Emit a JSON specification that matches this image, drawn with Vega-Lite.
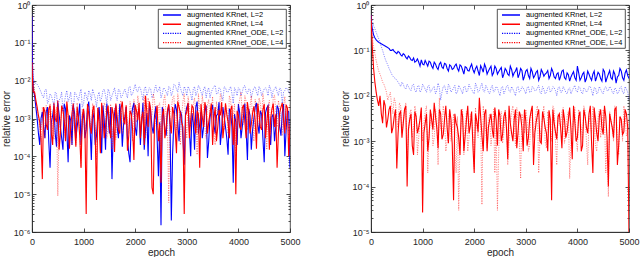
{
"$schema": "https://vega.github.io/schema/vega-lite/v6.json",
"padding": {"left": 0, "top": 0, "right": 0, "bottom": 0},
"spacing": 38,
"datasets": {
"L": [
{"x":0,"a":0.5,"b":0.03,"c":0.6,"d":0.5},
{"x":10,"a":0.02,"b":0.01,"c":0.05,"d":0.03},
{"x":25,"a":6e-3,"b":5e-3,"c":1.2e-2,"d":8e-3},
{"x":50,"a":4e-3,"b":5e-3,"c":9e-3,"d":5e-3},
{"x":100,"a":1e-3,"b":2e-3,"c":8e-3,"d":1.5e-3},
{"x":150,"a":2e-4,"b":8e-4,"c":6e-3,"d":6e-4},
{"x":200,"a":1.5e-3,"b":2.5e-5,"c":4e-3,"d":2e-3},
{"x":250,"a":3e-4,"b":1.5e-3,"c":5.5e-3,"d":3e-4},
{"x":300,"a":2e-3,"b":5e-4,"c":2.5e-3,"d":1.2e-3},
{"x":350,"a":5e-5,"b":2.2e-3,"c":4.5e-3,"d":2.5e-3},
{"x":400,"a":1.2e-3,"b":2e-4,"c":3e-3,"d":5e-4},
{"x":450,"a":4e-4,"b":1e-3,"c":5e-3,"d":1.5e-3},
{"x":500,"a":2.5e-3,"b":3e-3,"c":2e-3,"d":9e-6},
{"x":550,"a":6e-4,"b":4e-4,"c":3.5e-3,"d":8e-4},
{"x":600,"a":1.5e-4,"b":1.7e-3,"c":1.5e-3,"d":2e-3},
{"x":650,"a":1.8e-3,"b":2.5e-4,"c":4e-3,"d":3e-4},
{"x":700,"a":7e-5,"b":1.2e-3,"c":2.8e-3,"d":1.1e-3},
{"x":750,"a":9e-4,"b":6e-4,"c":5e-3,"d":6e-4},
{"x":800,"a":2.2e-3,"b":2.5e-3,"c":1.2e-3,"d":1.8e-3},
{"x":850,"a":3e-4,"b":1.8e-4,"c":4.5e-3,"d":2e-4},
{"x":900,"a":1.1e-3,"b":1e-3,"c":3e-3,"d":9e-4},
{"x":950,"a":2e-4,"b":5e-5,"c":6e-3,"d":5e-5},
{"x":1000,"a":1.6e-3,"b":1.8e-3,"c":2.5e-3,"d":1.4e-3},
{"x":1050,"a":5e-4,"b":3e-6,"c":4e-3,"d":7e-4},
{"x":1100,"a":2.8e-3,"b":1.3e-3,"c":5.5e-3,"d":2.2e-3},
{"x":1150,"a":8e-5,"b":4e-4,"c":3e-3,"d":4e-4},
{"x":1200,"a":1e-3,"b":2.2e-3,"c":4.5e-3,"d":1.2e-3},
{"x":1250,"a":3.5e-4,"b":7e-6,"c":2e-3,"d":8e-5},
{"x":1300,"a":2e-3,"b":8e-4,"c":5e-3,"d":1.6e-3},
{"x":1350,"a":1.2e-4,"b":2.6e-3,"c":3.5e-3,"d":5e-4},
{"x":1400,"a":9e-4,"b":3e-4,"c":6e-3,"d":2.6e-3},
{"x":1450,"a":2.5e-3,"b":1.5e-3,"c":2.5e-3,"d":3e-4},
{"x":1500,"a":4e-4,"b":6e-4,"c":5e-3,"d":1e-3},
{"x":1550,"a":2.5e-5,"b":2e-3,"c":4e-3,"d":1.5e-4},
{"x":1600,"a":1.4e-3,"b":1.3e-4,"c":6.5e-3,"d":1.9e-3},
{"x":1650,"a":6e-4,"b":1.1e-3,"c":3e-3,"d":7e-4},
{"x":1700,"a":2.4e-3,"b":4e-4,"c":5.5e-3,"d":2.4e-3},
{"x":1750,"a":1.8e-4,"b":2.8e-3,"c":4e-3,"d":4e-4},
{"x":1800,"a":1.1e-3,"b":7e-4,"c":6e-3,"d":1.3e-3},
{"x":1850,"a":3e-4,"b":1.4e-4,"c":3.5e-3,"d":8e-4},
{"x":1900,"a":7e-5,"b":1.6e-3,"c":7e-3,"d":2.8e-3},
{"x":1950,"a":1.9e-3,"b":5e-4,"c":4.5e-3,"d":2.5e-4},
{"x":2000,"a":6e-4,"b":2.3e-3,"c":8e-3,"d":1.5e-3},
{"x":2050,"a":1.3e-3,"b":9e-4,"c":5e-3,"d":4e-3},
{"x":2100,"a":2e-4,"b":3e-4,"c":6.5e-3,"d":6e-4},
{"x":2150,"a":2.6e-3,"b":1.5e-3,"c":3e-3,"d":2e-3},
{"x":2200,"a":5e-4,"b":4e-3,"c":7e-3,"d":3e-4},
{"x":2250,"a":1e-4,"b":6e-4,"c":5e-3,"d":3.5e-3},
{"x":2300,"a":1.5e-3,"b":1.7e-3,"c":6e-3,"d":1e-3},
{"x":2350,"a":4e-4,"b":1e-5,"c":4e-3,"d":4.5e-3},
{"x":2400,"a":2.1e-3,"b":1.2e-3,"c":7.5e-3,"d":7e-4},
{"x":2450,"a":3e-5,"b":2.5e-4,"c":5.5e-3,"d":2.2e-3},
{"x":2500,"a":1.5e-6,"b":2e-5,"c":3.5e-3,"d":1.8e-4},
{"x":2550,"a":1.2e-3,"b":1.8e-3,"c":6.5e-3,"d":3e-3},
{"x":2600,"a":3.5e-4,"b":6e-4,"c":5e-3,"d":1e-3},
{"x":2650,"a":2.2e-3,"b":2.4e-3,"c":7e-3,"d":6e-6},
{"x":2700,"a":2e-6,"b":4e-4,"c":4e-3,"d":1.8e-3},
{"x":2750,"a":9e-4,"b":1.3e-3,"c":8e-3,"d":4e-3},
{"x":2800,"a":1.7e-3,"b":1.2e-4,"c":6e-3,"d":5e-4},
{"x":2850,"a":2.5e-4,"b":2e-3,"c":9e-3,"d":2.5e-3},
{"x":2900,"a":1.2e-3,"b":8e-4,"c":5e-3,"d":1.2e-3},
{"x":2950,"a":6e-5,"b":3e-6,"c":7e-3,"d":4.5e-3},
{"x":3000,"a":2e-3,"b":1.5e-3,"c":4e-3,"d":3e-4},
{"x":3050,"a":5e-4,"b":3e-4,"c":6e-3,"d":2e-3},
{"x":3100,"a":1.4e-3,"b":2.2e-3,"c":3e-3,"d":8e-4},
{"x":3150,"a":1.5e-4,"b":7e-4,"c":7e-3,"d":3.5e-3},
{"x":3200,"a":2.8e-3,"b":1.6e-3,"c":5e-3,"d":1.1e-4},
{"x":3250,"a":7e-4,"b":5e-5,"c":6.5e-3,"d":1.7e-3},
{"x":3300,"a":3e-4,"b":1.1e-3,"c":4e-3,"d":4e-3},
{"x":3350,"a":1.6e-3,"b":2.7e-3,"c":7e-3,"d":6e-4},
{"x":3400,"a":9e-5,"b":4e-4,"c":5.5e-3,"d":2.3e-3},
{"x":3450,"a":1.1e-3,"b":1.4e-3,"c":3.5e-3,"d":1e-3},
{"x":3500,"a":2.3e-3,"b":2e-4,"c":6e-3,"d":3.8e-3},
{"x":3550,"a":4e-4,"b":2e-3,"c":7.5e-3,"d":2e-4},
{"x":3600,"a":1.3e-3,"b":6e-4,"c":4.5e-3,"d":1.5e-3},
{"x":3650,"a":2e-4,"b":1.2e-3,"c":6e-3,"d":4.5e-3},
{"x":3700,"a":2e-3,"b":3e-4,"c":3e-3,"d":8e-4},
{"x":3750,"a":6e-4,"b":2.5e-3,"c":6.5e-3,"d":2.6e-3},
{"x":3800,"a":1.1e-4,"b":8e-4,"c":5e-3,"d":4e-4},
{"x":3850,"a":1.5e-3,"b":1.7e-3,"c":7e-3,"d":3.2e-3},
{"x":3900,"a":2e-5,"b":2e-4,"c":2.5e-3,"d":1.2e-3},
{"x":3950,"a":8e-4,"b":1e-5,"c":5.5e-3,"d":1e-4},
{"x":4000,"a":2.4e-3,"b":1.2e-3,"c":6.5e-3,"d":2.1e-3},
{"x":4050,"a":3e-4,"b":5e-4,"c":4e-3,"d":5e-3},
{"x":4100,"a":1.2e-3,"b":2.3e-3,"c":7e-3,"d":7e-4},
{"x":4150,"a":5e-4,"b":3e-4,"c":5e-3,"d":2.8e-3},
{"x":4200,"a":1.8e-3,"b":1.5e-3,"c":6e-3,"d":1.1e-3},
{"x":4250,"a":1.5e-4,"b":7e-4,"c":3.5e-3,"d":4e-3},
{"x":4300,"a":1e-3,"b":2.1e-3,"c":6.5e-3,"d":2.5e-4},
{"x":4350,"a":2.6e-3,"b":1.6e-4,"c":5e-3,"d":1.8e-3},
{"x":4400,"a":4e-4,"b":1.3e-3,"c":7e-3,"d":3.5e-3},
{"x":4450,"a":1.3e-3,"b":5e-4,"c":4e-3,"d":9e-4},
{"x":4500,"a":7e-5,"b":2.4e-3,"c":6e-3,"d":2.4e-3},
{"x":4550,"a":1.9e-3,"b":8e-4,"c":5.5e-3,"d":1.5e-4},
{"x":4600,"a":5e-4,"b":1.5e-4,"c":7.5e-3,"d":3e-3},
{"x":4650,"a":1.1e-3,"b":1.8e-3,"c":3.5e-3,"d":1.2e-3},
{"x":4700,"a":2.5e-4,"b":6e-4,"c":6e-3,"d":4.2e-3},
{"x":4750,"a":2.2e-3,"b":5e-5,"c":5e-3,"d":6e-4},
{"x":4800,"a":6e-4,"b":1.4e-3,"c":6.5e-3,"d":2e-3},
{"x":4850,"a":1.4e-3,"b":2.6e-3,"c":2.5e-3,"d":3.5e-4},
{"x":4900,"a":1e-4,"b":4e-4,"c":5.5e-3,"d":3.8e-3},
{"x":4950,"a":1.6e-3,"b":1.9e-3,"c":6e-3,"d":1.3e-3},
{"x":5000,"a":5e-5,"b":7e-4,"c":4.5e-3,"d":2.5e-3},
{"x":75,"a":2e-3,"b":3e-3,"c":8.5e-3,"d":3e-3},
{"x":125,"a":4e-4,"b":1.2e-3,"c":7e-3,"d":1e-3},
{"x":175,"a":1e-3,"b":3e-4,"c":5e-3,"d":2.5e-4},
{"x":225,"a":6e-4,"b":2e-3,"c":3.5e-3,"d":1e-3},
{"x":275,"a":1.5e-3,"b":7e-4,"c":6e-3,"d":2.2e-3},
{"x":325,"a":2.5e-4,"b":1.8e-3,"c":3e-3,"d":7e-4},
{"x":375,"a":8e-4,"b":4e-4,"c":4e-3,"d":1.3e-3},
{"x":425,"a":2.2e-3,"b":2.6e-3,"c":2.2e-3,"d":2.8e-4},
{"x":475,"a":1.8e-4,"b":8e-4,"c":4.5e-3,"d":2e-3},
{"x":525,"a":1.3e-3,"b":1.5e-4,"c":3e-3,"d":5e-4},
{"x":575,"a":3e-4,"b":2.2e-3,"c":5e-3,"d":1.4e-3},
{"x":625,"a":2.4e-3,"b":9e-4,"c":2.5e-3,"d":3.5e-4},
{"x":675,"a":5e-4,"b":2.8e-3,"c":5.5e-3,"d":2.4e-3},
{"x":725,"a":1.2e-3,"b":1.6e-4,"c":3.5e-3,"d":8e-4},
{"x":775,"a":2e-4,"b":1.4e-3,"c":2e-3,"d":2e-4},
{"x":825,"a":1.4e-3,"b":6e-4,"c":5e-3,"d":1.2e-3},
{"x":875,"a":6e-4,"b":2e-3,"c":3.5e-3,"d":2.6e-3},
{"x":925,"a":2.5e-3,"b":3.5e-4,"c":4.5e-3,"d":6e-4},
{"x":975,"a":9e-4,"b":1.2e-3,"c":2e-3,"d":1.8e-3},
{"x":1025,"a":3e-4,"b":7e-4,"c":5e-3,"d":3e-4},
{"x":1075,"a":1.9e-3,"b":2.4e-3,"c":3e-3,"d":1.6e-3},
{"x":1125,"a":6e-4,"b":6e-4,"c":4.5e-3,"d":9e-4},
{"x":1175,"a":1.6e-3,"b":1.6e-3,"c":6e-3,"d":2.5e-3},
{"x":1225,"a":2e-4,"b":4e-4,"c":3.5e-3,"d":6e-4},
{"x":1275,"a":1.2e-3,"b":1.9e-3,"c":4e-3,"d":2e-3},
{"x":1325,"a":6e-4,"b":1.2e-4,"c":2.8e-3,"d":3.5e-4},
{"x":1375,"a":2.2e-3,"b":1.1e-3,"c":5.5e-3,"d":1.2e-3},
{"x":1425,"a":1.5e-4,"b":6e-4,"c":4e-3,"d":2e-3},
{"x":1475,"a":1.1e-3,"b":2.2e-3,"c":6e-3,"d":6e-4},
{"x":1525,"a":2e-3,"b":3e-4,"c":3e-3,"d":2.4e-3},
{"x":1575,"a":5e-4,"b":1.3e-3,"c":5e-3,"d":7e-4},
{"x":1625,"a":2.2e-3,"b":2.5e-3,"c":4e-3,"d":2.8e-4},
{"x":1675,"a":3e-4,"b":5e-4,"c":6e-3,"d":1.5e-3},
{"x":1725,"a":1.3e-3,"b":1.8e-3,"c":3.5e-3,"d":3e-3},
{"x":1775,"a":7e-4,"b":9e-4,"c":5e-3,"d":9e-4},
{"x":1825,"a":2e-3,"b":2.2e-3,"c":4.5e-3,"d":2.2e-3},
{"x":1875,"a":1.2e-4,"b":3.5e-4,"c":6.5e-3,"d":4e-4},
{"x":1925,"a":1e-3,"b":1.3e-3,"c":4e-3,"d":1.6e-3},
{"x":1975,"a":2.6e-3,"b":8e-5,"c":6e-3,"d":3.2e-3},
{"x":2025,"a":3.5e-4,"b":1.6e-3,"c":5.5e-3,"d":8e-4},
{"x":2075,"a":1.8e-3,"b":2.6e-3,"c":7e-3,"d":2.4e-3},
{"x":2125,"a":8e-4,"b":1e-3,"c":4.5e-3,"d":1.2e-3},
{"x":2175,"a":1.5e-4,"b":2e-4,"c":6e-3,"d":4e-3},
{"x":2225,"a":1.4e-3,"b":1.5e-3,"c":4e-3,"d":6e-4},
{"x":2275,"a":2.4e-3,"b":2.8e-3,"c":6.5e-3,"d":2.2e-3},
{"x":2325,"a":6e-4,"b":1.5e-5,"c":3.5e-3,"d":1.2e-3},
{"x":2375,"a":1.2e-3,"b":9e-4,"c":6e-3,"d":3e-3},
{"x":2425,"a":3e-4,"b":2.2e-3,"c":5e-3,"d":5e-4},
{"x":2475,"a":8e-4,"b":7e-4,"c":7e-3,"d":2.6e-3},
{"x":2525,"a":2e-3,"b":1.2e-3,"c":4.5e-3,"d":1.1e-3},
{"x":2575,"a":5e-4,"b":3e-4,"c":6e-3,"d":4.2e-3},
{"x":2625,"a":1.5e-3,"b":1.6e-3,"c":4e-3,"d":7e-4},
{"x":2675,"a":7e-4,"b":8e-4,"c":6.5e-3,"d":1.4e-3},
{"x":2725,"a":1.2e-4,"b":2e-3,"c":5e-3,"d":3.5e-3},
{"x":2775,"a":2.4e-3,"b":5e-4,"c":7.5e-3,"d":8e-4},
{"x":2825,"a":8e-4,"b":2.8e-3,"c":5e-3,"d":4.5e-3},
{"x":2875,"a":1.6e-3,"b":1.4e-3,"c":6.5e-3,"d":2e-4},
{"x":2925,"a":3e-4,"b":6e-4,"c":4e-3,"d":2.8e-3},
{"x":2975,"a":1.3e-3,"b":1.2e-3,"c":6e-3,"d":1.1e-3},
{"x":3025,"a":2.5e-3,"b":2.6e-3,"c":7e-3,"d":3.8e-3},
{"x":3075,"a":1e-4,"b":9e-4,"c":4.5e-3,"d":6e-4},
{"x":3125,"a":8e-4,"b":1.9e-3,"c":6e-3,"d":2.4e-3},
{"x":3175,"a":2e-3,"b":4e-4,"c":4e-3,"d":1.4e-3},
{"x":3225,"a":4e-4,"b":1.3e-3,"c":7.5e-3,"d":4.5e-3},
{"x":3275,"a":1.5e-3,"b":2.4e-3,"c":5e-3,"d":9e-4},
{"x":3325,"a":6e-4,"b":6e-4,"c":6e-3,"d":2.2e-3},
{"x":3375,"a":2.2e-3,"b":1.8e-3,"c":3.5e-3,"d":3e-4},
{"x":3425,"a":2.5e-4,"b":8e-4,"c":6.5e-3,"d":3.2e-3},
{"x":3475,"a":1.6e-3,"b":2.5e-3,"c":5e-3,"d":1.6e-3},
{"x":3525,"a":7e-4,"b":1e-3,"c":7e-3,"d":4.5e-4},
{"x":3575,"a":1.2e-3,"b":2.5e-4,"c":4.5e-3,"d":2.8e-3},
{"x":3625,"a":2.7e-3,"b":1.7e-3,"c":6.5e-3,"d":1e-3},
{"x":3675,"a":5e-4,"b":2.7e-3,"c":4e-3,"d":3.5e-3},
{"x":3725,"a":1.1e-3,"b":7e-4,"c":7e-3,"d":5e-4},
{"x":3775,"a":3e-4,"b":1.3e-3,"c":5e-3,"d":1.8e-3},
{"x":3825,"a":1.8e-3,"b":3e-4,"c":6e-3,"d":4e-3},
{"x":3875,"a":6e-4,"b":2.2e-3,"c":4.5e-3,"d":7e-4},
{"x":3925,"a":1.3e-3,"b":1e-3,"c":6.5e-3,"d":2.4e-3},
{"x":3975,"a":2e-4,"b":1.6e-3,"c":4e-3,"d":8e-4},
{"x":4025,"a":1.4e-3,"b":6e-4,"c":6e-3,"d":3.2e-3},
{"x":4075,"a":6e-4,"b":1.9e-3,"c":5e-3,"d":1.3e-3},
{"x":4125,"a":2.5e-3,"b":8e-4,"c":7.5e-3,"d":4e-3},
{"x":4175,"a":8e-5,"b":2.7e-3,"c":4.5e-3,"d":5e-4},
{"x":4225,"a":1.2e-3,"b":4e-4,"c":6e-3,"d":2e-3},
{"x":4275,"a":5e-4,"b":1.4e-3,"c":5e-3,"d":1e-3},
{"x":4325,"a":2e-3,"b":9e-4,"c":7e-3,"d":3.2e-3},
{"x":4375,"a":7e-4,"b":2.5e-3,"c":4e-3,"d":6e-4},
{"x":4425,"a":1.6e-3,"b":6e-4,"c":6e-3,"d":2.6e-3},
{"x":4475,"a":3e-4,"b":1.7e-3,"c":5e-3,"d":4.5e-3},
{"x":4525,"a":1.4e-3,"b":3e-4,"c":6.5e-3,"d":8e-4},
{"x":4575,"a":2.2e-3,"b":2.2e-3,"c":4e-3,"d":2.2e-3},
{"x":4625,"a":2e-4,"b":1e-3,"c":6e-3,"d":4e-4},
{"x":4675,"a":1.3e-3,"b":2.5e-3,"c":5.5e-3,"d":3.5e-3},
{"x":4725,"a":6e-4,"b":1.3e-3,"c":7e-3,"d":1.5e-3},
{"x":4775,"a":1.8e-3,"b":4e-4,"c":4e-3,"d":3e-3},
{"x":4825,"a":3.5e-4,"b":2e-3,"c":6e-3,"d":9e-4},
{"x":4875,"a":2.4e-3,"b":9e-4,"c":5e-3,"d":2.2e-3},
{"x":4925,"a":5e-4,"b":2.3e-3,"c":6.5e-3,"d":5e-4},
{"x":4975,"a":1.5e-3,"b":1e-4,"c":5e-3,"d":1.6e-3}
],
"R": [
{"x":0,"a":0.6,"b":0.6,"c":0.6,"d":0.5},
{"x":10,"a":0.4,"b":0.3,"c":0.5,"d":0.35},
{"x":25,"a":0.3,"b":0.12,"c":0.45,"d":0.2},
{"x":50,"a":0.22,"b":0.04,"c":0.35,"d":0.12},
{"x":100,"a":0.17,"b":0.012,"c":0.25,"d":0.06},
{"x":150,"a":0.15,"b":6e-3,"c":0.18,"d":0.035},
{"x":200,"a":0.14,"b":4e-3,"c":0.12,"d":0.025},
{"x":250,"a":0.13,"b":8e-3,"c":0.08,"d":0.018},
{"x":300,"a":0.12,"b":2e-3,"c":0.055,"d":0.012},
{"x":350,"a":0.11,"b":5e-3,"c":0.04,"d":0.01},
{"x":400,"a":0.1,"b":1.5e-3,"c":0.03,"d":6e-3},
{"x":450,"a":0.095,"b":3.5e-3,"c":0.025,"d":9e-3},
{"x":500,"a":0.085,"b":2.5e-4,"c":0.022,"d":3e-3},
{"x":550,"a":0.09,"b":4e-3,"c":0.018,"d":7e-3},
{"x":600,"a":0.075,"b":1.2e-3,"c":0.02,"d":1.5e-3},
{"x":650,"a":0.08,"b":5e-3,"c":0.015,"d":5e-3},
{"x":700,"a":0.065,"b":1e-4,"c":0.018,"d":4e-4},
{"x":750,"a":0.07,"b":3e-3,"c":0.014,"d":4e-3},
{"x":800,"a":0.06,"b":8e-4,"c":0.017,"d":1.2e-3},
{"x":850,"a":0.055,"b":4.5e-3,"c":0.013,"d":6e-3},
{"x":900,"a":0.065,"b":1.5e-3,"c":0.016,"d":5e-4},
{"x":950,"a":0.045,"b":3e-3,"c":0.012,"d":3e-3},
{"x":1000,"a":0.05,"b":2.7e-5,"c":0.018,"d":1e-3},
{"x":1050,"a":0.06,"b":2.5e-3,"c":0.014,"d":4.5e-3},
{"x":1100,"a":0.045,"b":6e-4,"c":0.016,"d":2e-4},
{"x":1150,"a":0.055,"b":5e-3,"c":0.012,"d":2.5e-3},
{"x":1200,"a":0.04,"b":1.8e-3,"c":0.015,"d":8e-4},
{"x":1250,"a":0.05,"b":3.5e-3,"c":0.011,"d":5e-3},
{"x":1300,"a":0.038,"b":7e-4,"c":0.019,"d":3e-4},
{"x":1350,"a":0.055,"b":4e-3,"c":0.008,"d":2e-3},
{"x":1400,"a":0.04,"b":1.4e-3,"c":0.016,"d":6e-3},
{"x":1450,"a":0.05,"b":6e-3,"c":0.013,"d":6e-4},
{"x":1500,"a":0.035,"b":9e-4,"c":0.018,"d":3.5e-3},
{"x":1550,"a":0.045,"b":3e-3,"c":0.012,"d":1e-3},
{"x":1600,"a":0.04,"b":5e-5,"c":0.015,"d":4e-3},
{"x":1650,"a":0.05,"b":2.5e-3,"c":0.011,"d":2e-4},
{"x":1700,"a":0.035,"b":1.2e-3,"c":0.017,"d":3e-5},
{"x":1750,"a":0.045,"b":5e-3,"c":0.013,"d":2.5e-3},
{"x":1800,"a":0.03,"b":6e-4,"c":0.016,"d":5e-4},
{"x":1850,"a":0.042,"b":3e-3,"c":0.012,"d":4.5e-3},
{"x":1900,"a":0.035,"b":1.5e-3,"c":0.018,"d":1.2e-3},
{"x":1950,"a":0.05,"b":4.5e-3,"c":0.014,"d":3e-3},
{"x":2000,"a":0.032,"b":2e-4,"c":0.011,"d":2.5e-4},
{"x":2050,"a":0.045,"b":2.8e-3,"c":0.016,"d":2e-3},
{"x":2100,"a":0.028,"b":9e-3,"c":0.013,"d":5e-3},
{"x":2150,"a":0.04,"b":1.3e-3,"c":0.019,"d":4e-5},
{"x":2200,"a":0.05,"b":4e-3,"c":0.012,"d":2.8e-3},
{"x":2250,"a":0.03,"b":6e-4,"c":0.015,"d":7e-4},
{"x":2300,"a":0.04,"b":3e-3,"c":0.011,"d":4e-3},
{"x":2350,"a":0.028,"b":1.8e-3,"c":0.017,"d":1.5e-3},
{"x":2400,"a":0.045,"b":5.5e-3,"c":0.013,"d":2e-4},
{"x":2450,"a":0.03,"b":8e-4,"c":0.015,"d":3e-5},
{"x":2500,"a":0.038,"b":3.5e-3,"c":0.01,"d":3.5e-3},
{"x":2550,"a":0.025,"b":1.4e-3,"c":0.016,"d":9e-4},
{"x":2600,"a":0.04,"b":4.5e-3,"c":0.013,"d":5e-3},
{"x":2650,"a":0.03,"b":4e-4,"c":0.017,"d":3e-4},
{"x":2700,"a":0.045,"b":2.5e-3,"c":0.012,"d":2.2e-3},
{"x":2750,"a":0.027,"b":1e-3,"c":0.014,"d":6e-3},
{"x":2800,"a":0.035,"b":5e-3,"c":0.01,"d":8e-4},
{"x":2850,"a":0.025,"b":1.6e-3,"c":0.016,"d":3e-3},
{"x":2900,"a":0.04,"b":3.5e-3,"c":0.013,"d":1.5e-4},
{"x":2950,"a":0.022,"b":6e-4,"c":0.015,"d":2.5e-3},
{"x":3000,"a":0.035,"b":2.8e-3,"c":0.011,"d":5e-3},
{"x":3050,"a":0.028,"b":1.2e-3,"c":0.016,"d":6e-4},
{"x":3100,"a":0.04,"b":4.5e-3,"c":0.012,"d":3.5e-3},
{"x":3150,"a":0.025,"b":3e-4,"c":0.015,"d":1.2e-3},
{"x":3200,"a":0.033,"b":2.6e-3,"c":0.013,"d":4.5e-3},
{"x":3250,"a":0.022,"b":5e-3,"c":0.017,"d":2e-4},
{"x":3300,"a":0.038,"b":9e-4,"c":0.011,"d":2e-3},
{"x":3350,"a":0.027,"b":3.2e-3,"c":0.014,"d":6e-3},
{"x":3400,"a":0.032,"b":1.5e-3,"c":0.012,"d":7e-4},
{"x":3450,"a":0.024,"b":4.8e-3,"c":0.016,"d":3e-3},
{"x":3500,"a":0.04,"b":5e-5,"c":0.013,"d":1e-3},
{"x":3550,"a":0.026,"b":2.5e-3,"c":0.015,"d":5e-3},
{"x":3600,"a":0.03,"b":1.1e-3,"c":0.01,"d":3e-4},
{"x":3650,"a":0.022,"b":4e-3,"c":0.016,"d":2.5e-3},
{"x":3700,"a":0.035,"b":7e-4,"c":0.012,"d":4.5e-3},
{"x":3750,"a":0.025,"b":3e-3,"c":0.014,"d":9e-4},
{"x":3800,"a":0.032,"b":1.6e-3,"c":0.011,"d":3.5e-3},
{"x":3850,"a":0.021,"b":5.5e-3,"c":0.015,"d":1.5e-4},
{"x":3900,"a":0.03,"b":4e-4,"c":0.013,"d":2e-3},
{"x":3950,"a":0.025,"b":2.7e-3,"c":0.017,"d":5.5e-3},
{"x":4000,"a":0.045,"b":1.2e-3,"c":0.012,"d":6e-4},
{"x":4050,"a":0.022,"b":4.5e-3,"c":0.015,"d":3e-3},
{"x":4100,"a":0.03,"b":8e-4,"c":0.011,"d":1.1e-3},
{"x":4150,"a":0.02,"b":3.5e-3,"c":0.014,"d":4.5e-3},
{"x":4200,"a":0.035,"b":1.5e-3,"c":0.013,"d":3e-4},
{"x":4250,"a":0.025,"b":6e-3,"c":0.016,"d":2.5e-3},
{"x":4300,"a":0.03,"b":2e-4,"c":0.01,"d":6e-3},
{"x":4350,"a":0.021,"b":3e-3,"c":0.015,"d":8e-4},
{"x":4400,"a":0.033,"b":1e-3,"c":0.012,"d":3.2e-3},
{"x":4450,"a":0.024,"b":5e-3,"c":0.014,"d":1.2e-3},
{"x":4500,"a":0.038,"b":1.4e-3,"c":0.011,"d":5e-3},
{"x":4550,"a":0.02,"b":3.5e-3,"c":0.016,"d":2e-4},
{"x":4600,"a":0.03,"b":1e-4,"c":0.013,"d":6e-5},
{"x":4650,"a":0.025,"b":2.8e-3,"c":0.015,"d":3e-3},
{"x":4700,"a":0.035,"b":1.2e-3,"c":0.011,"d":1e-3},
{"x":4750,"a":0.019,"b":5.5e-3,"c":0.014,"d":4.5e-3},
{"x":4800,"a":0.028,"b":8e-4,"c":0.012,"d":5e-4},
{"x":4850,"a":0.035,"b":3e-3,"c":0.016,"d":2.8e-3},
{"x":4900,"a":0.022,"b":1.6e-3,"c":0.011,"d":6e-3},
{"x":4950,"a":0.037,"b":4e-3,"c":0.014,"d":1.3e-3},
{"x":5000,"a":0.024,"b":1e-5,"c":0.008,"d":3e-3},
{"x":75,"a":0.19,"b":0.02,"c":0.3,"d":0.085},
{"x":125,"a":0.16,"b":8e-3,"c":0.21,"d":0.045},
{"x":175,"a":0.145,"b":1e-2,"c":0.15,"d":0.03},
{"x":225,"a":0.135,"b":2.5e-3,"c":0.1,"d":0.02},
{"x":275,"a":0.125,"b":6e-3,"c":0.065,"d":0.015},
{"x":325,"a":0.115,"b":3e-3,"c":0.048,"d":0.008},
{"x":375,"a":0.1,"b":6e-3,"c":0.035,"d":0.012},
{"x":425,"a":0.105,"b":2e-3,"c":0.027,"d":4e-3},
{"x":475,"a":0.09,"b":5e-3,"c":0.024,"d":7e-3},
{"x":525,"a":0.095,"b":1.5e-3,"c":0.02,"d":2e-3},
{"x":575,"a":0.08,"b":4.5e-3,"c":0.016,"d":6e-3},
{"x":625,"a":0.085,"b":2.5e-3,"c":0.018,"d":2.5e-3},
{"x":675,"a":0.07,"b":6e-3,"c":0.014,"d":7e-3},
{"x":725,"a":0.075,"b":1.8e-3,"c":0.016,"d":1.5e-3},
{"x":775,"a":0.062,"b":4e-3,"c":0.013,"d":5e-3},
{"x":825,"a":0.068,"b":5e-4,"c":0.018,"d":2e-3},
{"x":875,"a":0.058,"b":3.5e-3,"c":0.012,"d":4e-3},
{"x":925,"a":0.055,"b":2e-3,"c":0.017,"d":1.2e-3},
{"x":975,"a":0.062,"b":5.5e-3,"c":0.013,"d":5e-3},
{"x":1025,"a":0.048,"b":1.5e-3,"c":0.016,"d":2.5e-3},
{"x":1075,"a":0.052,"b":4e-3,"c":0.012,"d":6e-3},
{"x":1125,"a":0.058,"b":1.2e-3,"c":0.017,"d":1.5e-3},
{"x":1175,"a":0.045,"b":3e-3,"c":0.013,"d":4e-3},
{"x":1225,"a":0.055,"b":7e-3,"c":0.016,"d":1.2e-3},
{"x":1275,"a":0.042,"b":2e-3,"c":0.013,"d":3e-3},
{"x":1325,"a":0.05,"b":5e-3,"c":0.015,"d":9e-3},
{"x":1375,"a":0.043,"b":1.1e-3,"c":0.012,"d":1.5e-3},
{"x":1425,"a":0.052,"b":3e-3,"c":0.017,"d":3.5e-3},
{"x":1475,"a":0.04,"b":2e-3,"c":0.011,"d":1e-3},
{"x":1525,"a":0.048,"b":5e-3,"c":0.016,"d":5e-3},
{"x":1575,"a":0.038,"b":8e-4,"c":0.013,"d":2e-3},
{"x":1625,"a":0.046,"b":4e-3,"c":0.017,"d":6e-4},
{"x":1675,"a":0.04,"b":2e-3,"c":0.012,"d":3.5e-3},
{"x":1725,"a":0.048,"b":5e-4,"c":0.015,"d":1.2e-3},
{"x":1775,"a":0.037,"b":3.5e-3,"c":0.011,"d":5e-3},
{"x":1825,"a":0.044,"b":1.3e-3,"c":0.016,"d":2.2e-3},
{"x":1875,"a":0.036,"b":6e-3,"c":0.013,"d":6e-4},
{"x":1925,"a":0.043,"b":2.2e-3,"c":0.015,"d":4e-3},
{"x":1975,"a":0.038,"b":8e-4,"c":0.012,"d":1.8e-3},
{"x":2025,"a":0.04,"b":4e-3,"c":0.019,"d":5.5e-3},
{"x":2075,"a":0.035,"b":1.6e-3,"c":0.012,"d":1.2e-3},
{"x":2125,"a":0.046,"b":3.5e-3,"c":0.016,"d":2.5e-3},
{"x":2175,"a":0.033,"b":6e-4,"c":0.013,"d":6e-3},
{"x":2225,"a":0.042,"b":5e-3,"c":0.017,"d":1.5e-3},
{"x":2275,"a":0.035,"b":2e-3,"c":0.012,"d":3e-3},
{"x":2325,"a":0.045,"b":4e-3,"c":0.015,"d":8e-4},
{"x":2375,"a":0.032,"b":1.2e-3,"c":0.012,"d":5e-3},
{"x":2425,"a":0.04,"b":3e-3,"c":0.016,"d":2e-3},
{"x":2475,"a":0.034,"b":5e-3,"c":0.012,"d":6e-4},
{"x":2525,"a":0.042,"b":1e-3,"c":0.015,"d":4.5e-3},
{"x":2575,"a":0.03,"b":3.5e-3,"c":0.011,"d":1.5e-3},
{"x":2625,"a":0.036,"b":2e-3,"c":0.016,"d":3e-3},
{"x":2675,"a":0.028,"b":6e-3,"c":0.013,"d":1e-3},
{"x":2725,"a":0.038,"b":1.5e-3,"c":0.016,"d":4.5e-3},
{"x":2775,"a":0.032,"b":3e-3,"c":0.012,"d":2e-3},
{"x":2825,"a":0.042,"b":7e-4,"c":0.015,"d":5.5e-3},
{"x":2875,"a":0.03,"b":4.5e-3,"c":0.012,"d":1e-3},
{"x":2925,"a":0.036,"b":2e-3,"c":0.016,"d":4e-3},
{"x":2975,"a":0.027,"b":5e-3,"c":0.013,"d":1.5e-3},
{"x":3025,"a":0.038,"b":8e-4,"c":0.015,"d":3e-3},
{"x":3075,"a":0.024,"b":3e-3,"c":0.012,"d":8e-4},
{"x":3125,"a":0.034,"b":6e-3,"c":0.016,"d":5e-3},
{"x":3175,"a":0.028,"b":1.5e-3,"c":0.013,"d":2e-3},
{"x":3225,"a":0.036,"b":3.8e-3,"c":0.015,"d":6e-3},
{"x":3275,"a":0.026,"b":1e-3,"c":0.012,"d":1.2e-3},
{"x":3325,"a":0.033,"b":4.5e-3,"c":0.016,"d":3.5e-3},
{"x":3375,"a":0.03,"b":2e-3,"c":0.011,"d":1e-3},
{"x":3425,"a":0.036,"b":6e-4,"c":0.015,"d":4.5e-3},
{"x":3475,"a":0.028,"b":3e-3,"c":0.012,"d":2e-3},
{"x":3525,"a":0.034,"b":5e-3,"c":0.016,"d":6e-3},
{"x":3575,"a":0.024,"b":1.6e-3,"c":0.013,"d":1e-3},
{"x":3625,"a":0.032,"b":3.5e-3,"c":0.015,"d":4e-3},
{"x":3675,"a":0.027,"b":2e-3,"c":0.012,"d":2e-3},
{"x":3725,"a":0.037,"b":5e-3,"c":0.016,"d":5.5e-3},
{"x":3775,"a":0.023,"b":1.2e-3,"c":0.012,"d":1.4e-3},
{"x":3825,"a":0.029,"b":3e-3,"c":0.014,"d":4.5e-3},
{"x":3875,"a":0.026,"b":1.8e-3,"c":0.011,"d":9e-4},
{"x":3925,"a":0.034,"b":6e-3,"c":0.015,"d":3e-3},
{"x":3975,"a":0.022,"b":1e-3,"c":0.013,"d":1.2e-3},
{"x":4025,"a":0.032,"b":3.5e-3,"c":0.016,"d":5e-3},
{"x":4075,"a":0.025,"b":6e-4,"c":0.012,"d":2e-3},
{"x":4125,"a":0.033,"b":5e-3,"c":0.015,"d":6e-3},
{"x":4175,"a":0.024,"b":2e-3,"c":0.012,"d":1e-3},
{"x":4225,"a":0.03,"b":4e-3,"c":0.016,"d":3.5e-3},
{"x":4275,"a":0.022,"b":9e-4,"c":0.013,"d":1.5e-3},
{"x":4325,"a":0.035,"b":5.5e-3,"c":0.015,"d":4e-3},
{"x":4375,"a":0.026,"b":1.5e-3,"c":0.011,"d":6e-4},
{"x":4425,"a":0.03,"b":3.5e-3,"c":0.016,"d":5e-3},
{"x":4475,"a":0.021,"b":2e-3,"c":0.012,"d":2e-3},
{"x":4525,"a":0.034,"b":6e-3,"c":0.015,"d":3.5e-3},
{"x":4575,"a":0.025,"b":1.2e-3,"c":0.013,"d":1e-3},
{"x":4625,"a":0.036,"b":4e-3,"c":0.016,"d":4.5e-3},
{"x":4675,"a":0.023,"b":2e-3,"c":0.012,"d":2e-3},
{"x":4725,"a":0.03,"b":5e-3,"c":0.015,"d":6e-3},
{"x":4775,"a":0.026,"b":3e-4,"c":0.011,"d":1.2e-3},
{"x":4825,"a":0.04,"b":3.5e-3,"c":0.015,"d":3.5e-3},
{"x":4875,"a":0.025,"b":1.4e-3,"c":0.012,"d":1e-3},
{"x":4925,"a":0.032,"b":5e-3,"c":0.016,"d":4e-3},
{"x":4975,"a":0.028,"b":2e-3,"c":0.012,"d":1.5e-3}
]
},
"hconcat": [
{
"width": 258, "height": 227,
"data": {"name": "L"},
"transform": [{"fold": ["a","b","c","d"], "as": ["k","v"]}],
"layer": [
{
"mark": {"type": "line", "clip": true},
"encoding": {
"x": {"field": "x", "type": "quantitative", "scale": {"domain": [0,5000], "nice": false, "zero": false},
 "axis": {"title": "epoch", "values": [0,1000,2000,3000,4000,5000], "format": "d"}},
"y": {"field": "v", "type": "quantitative", "scale": {"type": "log", "domain": [1e-6,1], "nice": false},
 "axis": {"title": "relative error",
 "values": [1e-6,2e-6,3e-6,4e-6,5e-6,6e-6,7e-6,8e-6,9e-6,1e-5,2e-5,3e-5,4e-5,5e-5,6e-5,7e-5,8e-5,9e-5,1e-4,2e-4,3e-4,4e-4,5e-4,6e-4,7e-4,8e-4,9e-4,1e-3,2e-3,3e-3,4e-3,5e-3,6e-3,7e-3,8e-3,9e-3,0.01,0.02,0.03,0.04,0.05,0.06,0.07,0.08,0.09,0.1,0.2,0.3,0.4,0.5,0.6,0.7,0.8,0.9,1],
 "labelExpr": "abs(log(datum.value)/LN10 - round(log(datum.value)/LN10)) > 0.01 ? '' : ['10⁰','10⁻¹','10⁻²','10⁻³','10⁻⁴','10⁻⁵','10⁻⁶'][-round(log(datum.value)/LN10)]",
 "tickSize": {"condition": {"test": "abs(log(datum.value)/LN10 - round(log(datum.value)/LN10)) < 0.01", "value": -4}, "value": -2}}},
"color": {"field": "k", "type": "nominal", "scale": {"domain": ["a","b","c","d"], "range": ["#0000ff","#ff0000","#0000ff","#ff0000"]},
 "legend": {"title": null, "labelExpr": "{'a':'augmented KRnet, L=2','b':'augmented KRnet, L=4','c':'augmented KRnet_ODE, L=2','d':'augmented KRnet_ODE, L=4'}[datum.label]"}},
"strokeDash": {"field": "k", "type": "nominal", "scale": {"domain": ["a","b","c","d"], "range": [[1,0],[1,0],[1.2,1.2],[1.2,1.2]]},
 "legend": {"title": null, "labelExpr": "{'a':'augmented KRnet, L=2','b':'augmented KRnet, L=4','c':'augmented KRnet_ODE, L=2','d':'augmented KRnet_ODE, L=4'}[datum.label]"}},
"strokeWidth": {"condition": {"test": "datum.k == 'c' || datum.k == 'd'", "value": 0.9}, "value": 1.1},
"strokeOpacity": {"condition": {"test": "datum.k == 'c' || datum.k == 'd'", "value": 0.5}, "value": 1}
}
},
{
"mark": {"type": "line", "opacity": 0},
"encoding": {
"x": {"field": "x", "type": "quantitative", "axis": {"orient": "top", "title": null, "labels": false, "domain": false, "values": [0,1000,2000,3000,4000,5000]}},
"y": {"field": "v", "type": "quantitative", "axis": {"orient": "right", "title": null, "labels": false, "domain": false,
 "values": [1e-6,2e-6,3e-6,4e-6,5e-6,6e-6,7e-6,8e-6,9e-6,1e-5,2e-5,3e-5,4e-5,5e-5,6e-5,7e-5,8e-5,9e-5,1e-4,2e-4,3e-4,4e-4,5e-4,6e-4,7e-4,8e-4,9e-4,1e-3,2e-3,3e-3,4e-3,5e-3,6e-3,7e-3,8e-3,9e-3,0.01,0.02,0.03,0.04,0.05,0.06,0.07,0.08,0.09,0.1,0.2,0.3,0.4,0.5,0.6,0.7,0.8,0.9,1],
 "tickSize": {"condition": {"test": "abs(log(datum.value)/LN10 - round(log(datum.value)/LN10)) < 0.01", "value": -4}, "value": -2}}}
}
}
],
"resolve": {"axis": {"x": "independent", "y": "independent"}}
},
{
"width": 258, "height": 227,
"data": {"name": "R"},
"transform": [{"fold": ["a","b","c","d"], "as": ["k","v"]}],
"layer": [
{
"mark": {"type": "line", "clip": true},
"encoding": {
"x": {"field": "x", "type": "quantitative", "scale": {"domain": [0,5000], "nice": false, "zero": false},
 "axis": {"title": "epoch", "values": [0,1000,2000,3000,4000,5000], "format": "d"}},
"y": {"field": "v", "type": "quantitative", "scale": {"type": "log", "domain": [1e-5,1], "nice": false},
 "axis": {"title": "relative error",
 "values": [1e-5,2e-5,3e-5,4e-5,5e-5,6e-5,7e-5,8e-5,9e-5,1e-4,2e-4,3e-4,4e-4,5e-4,6e-4,7e-4,8e-4,9e-4,1e-3,2e-3,3e-3,4e-3,5e-3,6e-3,7e-3,8e-3,9e-3,0.01,0.02,0.03,0.04,0.05,0.06,0.07,0.08,0.09,0.1,0.2,0.3,0.4,0.5,0.6,0.7,0.8,0.9,1],
 "labelExpr": "abs(log(datum.value)/LN10 - round(log(datum.value)/LN10)) > 0.01 ? '' : ['10⁰','10⁻¹','10⁻²','10⁻³','10⁻⁴','10⁻⁵','10⁻⁶'][-round(log(datum.value)/LN10)]",
 "tickSize": {"condition": {"test": "abs(log(datum.value)/LN10 - round(log(datum.value)/LN10)) < 0.01", "value": -4}, "value": -2}}},
"color": {"field": "k", "type": "nominal", "scale": {"domain": ["a","b","c","d"], "range": ["#0000ff","#ff0000","#0000ff","#ff0000"]},
 "legend": {"title": null, "labelExpr": "{'a':'augmented KRnet, L=2','b':'augmented KRnet, L=4','c':'augmented KRnet_ODE, L=2','d':'augmented KRnet_ODE, L=4'}[datum.label]"}},
"strokeDash": {"field": "k", "type": "nominal", "scale": {"domain": ["a","b","c","d"], "range": [[1,0],[1,0],[1.2,1.2],[1.2,1.2]]},
 "legend": {"title": null, "labelExpr": "{'a':'augmented KRnet, L=2','b':'augmented KRnet, L=4','c':'augmented KRnet_ODE, L=2','d':'augmented KRnet_ODE, L=4'}[datum.label]"}},
"strokeWidth": {"condition": {"test": "datum.k == 'c' || datum.k == 'd'", "value": 0.9}, "value": 1.1},
"strokeOpacity": {"condition": {"test": "datum.k == 'c' || datum.k == 'd'", "value": 0.5}, "value": 1}
}
},
{
"mark": {"type": "line", "opacity": 0},
"encoding": {
"x": {"field": "x", "type": "quantitative", "axis": {"orient": "top", "title": null, "labels": false, "domain": false, "values": [0,1000,2000,3000,4000,5000]}},
"y": {"field": "v", "type": "quantitative", "axis": {"orient": "right", "title": null, "labels": false, "domain": false,
 "values": [1e-5,2e-5,3e-5,4e-5,5e-5,6e-5,7e-5,8e-5,9e-5,1e-4,2e-4,3e-4,4e-4,5e-4,6e-4,7e-4,8e-4,9e-4,1e-3,2e-3,3e-3,4e-3,5e-3,6e-3,7e-3,8e-3,9e-3,0.01,0.02,0.03,0.04,0.05,0.06,0.07,0.08,0.09,0.1,0.2,0.3,0.4,0.5,0.6,0.7,0.8,0.9,1],
 "tickSize": {"condition": {"test": "abs(log(datum.value)/LN10 - round(log(datum.value)/LN10)) < 0.01", "value": -4}, "value": -2}}}
}
}
],
"resolve": {"axis": {"x": "independent", "y": "independent"}}
}
],
"resolve": {"scale": {"y": "independent", "color": "independent", "strokeDash": "independent"}, "legend": {"color": "independent", "strokeDash": "independent"}},
"config": {
"font": "Liberation Sans",
"view": {"stroke": "#262626", "strokeWidth": 0.8},
"axis": {"domainColor": "#262626", "domainWidth": 0.8, "tickColor": "#262626", "tickWidth": 0.8, "tickSize": -4, "labelColor": "#262626", "titleColor": "#262626", "labelFontSize": 9, "titleFontSize": 10, "titleFontWeight": "normal", "grid": false, "labelPadding": 6, "titlePadding": 2, "labelFlush": false},
"axisX": {"labelPadding": 9, "titlePadding": 1},
"legend": {"orient": "top-right", "offset": 4, "strokeColor": "#262626", "fillColor": "white", "padding": 2, "labelFontSize": 7.4, "labelColor": "#000000", "symbolType": "M-3,0H3", "symbolSize": 36, "symbolStrokeWidth": 1.4, "symbolOffset": 8, "labelOffset": 11, "rowPadding": 1.2, "labelLimit": 200, "strokeWidth": 0.8}
}
}
